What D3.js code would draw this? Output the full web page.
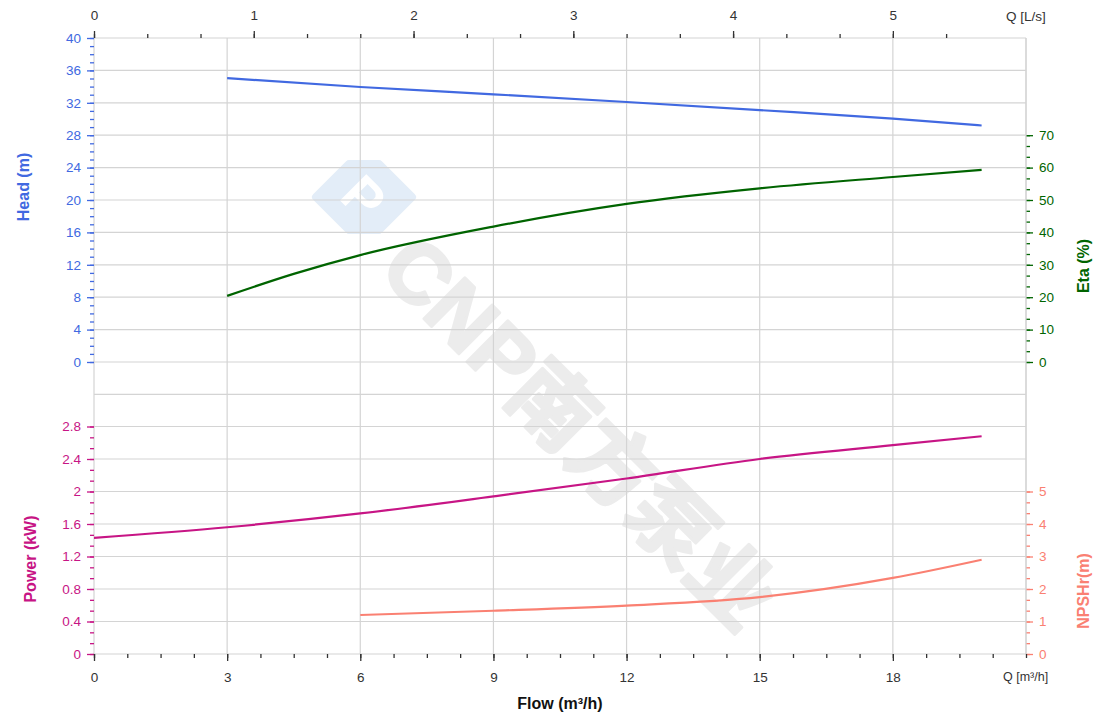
<!DOCTYPE html>
<html>
<head>
<meta charset="utf-8">
<script src="https://cdn.jsdelivr.net/npm/d3@7"></script>
<style>
  body { margin: 0; background: #fff; }
  svg { display: block; font-family: "Liberation Sans", Arial, "Noto Sans CJK SC", sans-serif; }
  .grid line { stroke: #d4d4d4; stroke-width: 1.2; }
</style>
</head>
<body>
<div id="chart"></div>
<script>
// curve data
const headFlow = [3, 6, 9, 12, 15, 18, 20];
const headVals = [35.05, 33.95, 33.05, 32.1, 31.1, 30.05, 29.2];
const etaFlow = [3, 4.5, 6, 9, 12, 15, 18, 20];
const etaVals = [20.4, 27.2, 33.0, 41.8, 48.8, 53.6, 57.1, 59.3];
const powerFlow = [0, 3, 6, 9, 12, 15, 18, 20];
const powerVals = [1.43, 1.56, 1.73, 1.94, 2.16, 2.40, 2.57, 2.68];
const npshFlow = [6, 9, 12, 15, 18, 20];
const npshVals = [1.2, 1.33, 1.49, 1.75, 2.34, 2.9];

// tick labels
const flowTicks = [0, 3, 6, 9, 12, 15, 18];
const lsTicks = [0, 1, 2, 3, 4, 5];
const headTicks = [0, 4, 8, 12, 16, 20, 24, 28, 32, 36, 40];
const etaTicks = [0, 10, 20, 30, 40, 50, 60, 70];
const powerTicks = [0, 0.4, 0.8, 1.2, 1.6, 2, 2.4, 2.8];
const npshTicks = [0, 1, 2, 3, 4, 5];

const W = 1120, H = 718;
const pLeft = 94, pRight = 1026, pTop = 38, pBottom = 654, pMid = 394;

const headColor = "#4169E1", etaColor = "#006400", powerColor = "#C71585", npshColor = "#FA8072";

const svg = d3.select("#chart").append("svg")
    .attr("width", W)
    .attr("height", H);

// scales
const x = d3.scaleLinear().domain([0, 21]).range([pLeft, pRight]);
const xLs = d3.scaleLinear().domain([0, 21 / 3.6]).range([pLeft, pRight]);
const yHead = d3.scaleLinear().domain([0, 40]).range([362, pTop]);
const yEta = d3.scaleLinear().domain([0, 100]).range([362, pTop]);
const yPower = d3.scaleLinear().domain([0, 3.2]).range([pBottom, pMid]);
const yNpsh = d3.scaleLinear().domain([0, 8]).range([pBottom, pMid]);

// watermark
const wm = svg.append("g").attr("class", "watermark");
const logo = wm.append("g").attr("transform", "translate(364,197)");
logo.append("path")
    .attr("d", "M-48,0 L-15,-33 L15,-33 L48,0 L15,33 L-15,33 Z")
    .attr("fill", "#e3edf8")
    .attr("stroke", "#e3edf8")
    .attr("stroke-width", 8)
    .attr("stroke-linejoin", "round");
logo.append("text")
    .attr("transform", "rotate(45)")
    .attr("text-anchor", "middle")
    .attr("dy", "0.36em")
    .style("font-size", "54px")
    .style("font-weight", "bold")
    .attr("fill", "#fff")
    .text("P");
wm.append("text")
    .attr("transform", "translate(580,432) rotate(45)")
    .attr("text-anchor", "middle")
    .attr("dy", "0.36em")
    .style("font-size", "84px")
    .style("font-weight", "bold")
    .attr("fill", "#ececec")
    .attr("stroke", "#ececec")
    .attr("stroke-width", 3)
    .attr("stroke-linejoin", "round")
    .text("CNP南方泵业");

// grid
const grid = svg.append("g").attr("class", "grid");
grid.selectAll(".h1").data(d3.range(-4, 41, 4)).enter().append("line")
    .attr("x1", pLeft).attr("x2", pRight)
    .attr("y1", d => yHead(d)).attr("y2", d => yHead(d));
grid.selectAll(".h2").data(powerTicks).enter().append("line")
    .attr("x1", pLeft).attr("x2", pRight)
    .attr("y1", d => yPower(d)).attr("y2", d => yPower(d));
grid.selectAll(".v").data([3, 6, 9, 12, 15, 18, 21]).enter().append("line")
    .attr("x1", d => x(d)).attr("x2", d => x(d))
    .attr("y1", pTop).attr("y2", pBottom);
grid.append("line").attr("x1", pLeft).attr("x2", pLeft).attr("y1", pTop).attr("y2", pBottom);

// axis helper: major ticks with labels + minor ticks without
function drawAxis(axisFn, scale, major, minor, pos, color, labelColor, fmt) {
    const g = svg.append("g").attr("transform", pos);
    g.call(axisFn(scale).tickValues(minor).tickSize(4).tickFormat(""));
    g.select(".domain").remove();
    const g3 = svg.append("g").attr("transform", pos);
    const pad = (axisFn === d3.axisTop || axisFn === d3.axisBottom) ? 11 : 6;
    g3.call(axisFn(scale).tickValues(major).tickSize(7).tickPadding(pad).tickFormat(fmt || (d => d)));
    g3.select(".domain").remove();
    [g, g3].forEach(s => {
        s.selectAll("line").attr("stroke", color).attr("stroke-width", 1.3);
        s.selectAll("text").attr("fill", labelColor).style("font-size", "13.5px").style("font-family", "'Liberation Sans', Arial, sans-serif");
    });
    return g3;
}

const minorRange = (a, b, n) => d3.range(0, Math.round((b - a) * n) + 1).map(i => a + i / n);

drawAxis(d3.axisLeft, yHead, headTicks, minorRange(0, 40, 1), `translate(${pLeft},0)`, headColor, headColor);
drawAxis(d3.axisLeft, yPower, powerTicks, minorRange(0, 2.8, 7.5), `translate(${pLeft},0)`, powerColor, powerColor);
drawAxis(d3.axisRight, yEta, etaTicks, minorRange(0, 70, 0.3), `translate(${pRight},0)`, etaColor, etaColor);
drawAxis(d3.axisRight, yNpsh, npshTicks, minorRange(0, 5, 3), `translate(${pRight},0)`, npshColor, npshColor);
drawAxis(d3.axisBottom, x, flowTicks, minorRange(0, 21, 4 / 3), `translate(0,${pBottom})`, "#333", "#333");
drawAxis(d3.axisTop, xLs, lsTicks, minorRange(0, 5.34, 3), `translate(0,${pTop})`, "#333", "#333");

// right axis line
svg.append("line").attr("x1", pRight).attr("x2", pRight).attr("y1", pTop).attr("y2", pBottom)
    .attr("stroke", "#d4d4d4").attr("stroke-width", 1.2);

// unit labels at the ends of the flow axes
svg.append("text").attr("x", 1006).attr("y", 21).attr("fill", "#333")
    .style("font-size", "13.5px").text("Q [L/s]");
svg.append("text").attr("x", 1003).attr("y", 681).attr("fill", "#333")
    .style("font-size", "12.5px").text("Q [m³/h]");

// axis titles
function title(txt, cx, cy, color, rot) {
    svg.append("text")
        .attr("transform", `translate(${cx},${cy})` + (rot ? " rotate(-90)" : ""))
        .attr("text-anchor", "middle")
        .attr("dy", "0.35em")
        .attr("fill", color)
        .style("font-size", "16px")
        .style("font-weight", "bold")
        .text(txt);
}
title("Head (m)", 23, 187, headColor, true);
title("Eta (%)", 1083, 266, etaColor, true);
title("Power (kW)", 30, 559, powerColor, true);
title("NPSHr(m)", 1083, 591, npshColor, true);
title("Flow (m³/h)", 560, 703, "#111", false);

// curves
function curve(xs, ys, yScale, color) {
    const pts = xs.map((d, i) => [d, ys[i]]);
    svg.append("path")
        .datum(pts)
        .attr("fill", "none")
        .attr("stroke", color)
        .attr("stroke-width", 2.2)
        .attr("d", d3.line().x(d => x(d[0])).y(d => yScale(d[1])).curve(d3.curveMonotoneX));
}
curve(headFlow, headVals, yHead, headColor);
curve(etaFlow, etaVals, yEta, etaColor);
curve(powerFlow, powerVals, yPower, powerColor);
curve(npshFlow, npshVals, yNpsh, npshColor);
</script>
</body>
</html>
